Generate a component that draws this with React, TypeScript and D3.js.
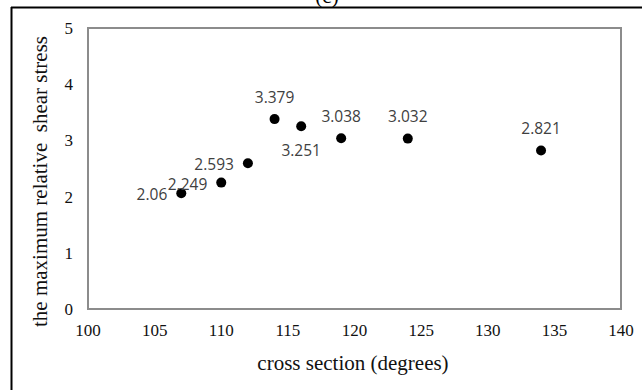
import React from "react";
import * as d3 from "d3";

const crossSections = [107, 110, 112, 114, 116, 119, 124, 134];
const shearStress = [2.06, 2.249, 2.593, 3.379, 3.251, 3.038, 3.032, 2.821];
const labelTexts = ["2.06", "2.249", "2.593", "3.379", "3.251", "3.038", "3.032", "2.821"];
const labelPlacement = ["left", "left", "left", "above", "below", "above", "above", "above"];
const xTicks = [100, 105, 110, 115, 120, 125, 130, 135, 140];
const yTicks = [0, 1, 2, 3, 4, 5];

const W = 642;
const H = 390;
const left = 88;
const right = 621;
const top = 28;
const bottom = 309;

export default function App() {
  const x = d3.scaleLinear().domain([100, 140]).range([left, right]);
  const y = d3.scaleLinear().domain([0, 5]).range([bottom, top]);
  const serif = "'Liberation Serif', 'Times New Roman', serif";
  const sans = "'Open Sans', 'Noto Sans', sans-serif";

  return (
    <svg
      width={W}
      height={H}
      style={{ position: "absolute", left: 0, top: 0, background: "#fff" }}
    >
      <rect x={0} y={0} width={W} height={H} fill="#fff" />
      {/* caption, mostly cut off */}
      <text x={327} y={3} textAnchor="middle" fontFamily={serif} fontSize={21} fill="#000">
        (c)
      </text>
      {/* outer frame (top and left only visible) */}
      <line x1={11} x2={W} y1={7.5} y2={7.5} stroke="#000" strokeWidth={2} />
      <line x1={11.5} x2={11.5} y1={7} y2={H} stroke="#000" strokeWidth={2} />

      {/* plot area border */}
      <rect
        x={left}
        y={top}
        width={right - left}
        height={bottom - top}
        fill="none"
        stroke="#8c8c8c"
        strokeWidth={2}
      />

      {/* y tick labels */}
      {yTicks.map((t) => (
        <text
          key={"y" + t}
          x={73}
          y={y(t)}
          dy="0.35em"
          textAnchor="end"
          fontFamily={serif}
          fontSize={17}
          fill="#111"
        >
          {t}
        </text>
      ))}

      {/* x tick labels */}
      {xTicks.map((t) => (
        <text
          key={"x" + t}
          x={x(t)}
          y={336}
          textAnchor="middle"
          fontFamily={serif}
          fontSize={17}
          fill="#111"
        >
          {t}
        </text>
      ))}

      {/* axis titles */}
      <text
        x={353}
        y={370}
        textAnchor="middle"
        fontFamily={serif}
        fontSize={21}
        fill="#111"
      >
        cross section (degrees)
      </text>
      <text
        transform={`translate(47,${(33 + 330) / 2}) rotate(-90)`}
        textAnchor="middle"
        fontFamily={serif}
        fontSize={21}
        fill="#111"
        style={{ whiteSpace: "pre" }}
      >
        {"the maximum relative  shear stress"}
      </text>

      {/* points */}
      {crossSections.map((c, i) => (
        <circle key={"p" + i} cx={x(c)} cy={y(shearStress[i])} r={5} fill="#000" />
      ))}

      {/* data labels */}
      {crossSections.map((c, i) => {
        const px = x(c);
        const py = y(shearStress[i]);
        const place = labelPlacement[i];
        let tx = px;
        let ty = py;
        let anchor: "start" | "middle" | "end" = "middle";
        if (place === "left") {
          tx = px - 14;
          ty = py + 1.5;
          anchor = "end";
        } else if (place === "above") {
          ty = py - 22;
        } else {
          ty = py + 24.5;
        }
        return (
          <text
            key={"l" + i}
            x={tx}
            y={ty}
            dy="0.35em"
            textAnchor={anchor}
            fontFamily={sans}
            fontSize={15.5}
            fill="#404040"
          >
            {labelTexts[i]}
          </text>
        );
      })}
    </svg>
  );
}
